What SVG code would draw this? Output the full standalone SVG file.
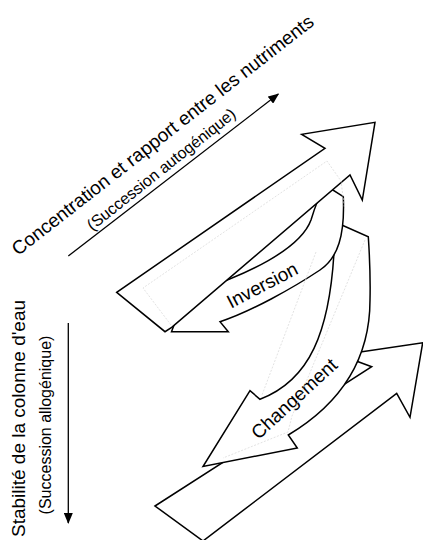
<svg xmlns="http://www.w3.org/2000/svg" width="423" height="540" viewBox="0 0 423 540">
  <style>
    .blk { fill:#fff; stroke:#000; stroke-width:1.5; stroke-linejoin:miter; }
    .ghost { fill:none; stroke:#d6d6d6; stroke-width:0.7; stroke-dasharray:2 1.5; }
    .lbl { font-family:"Liberation Sans", Arial, sans-serif; fill:#000; }
    .big { font-size:19px; }
    .small { font-size:16px; }
    .axis { stroke:#000; stroke-width:1.3; fill:none; marker-end:url(#ah); }
  </style>
  <defs>
    <marker id="ah" viewBox="0 0 11 9" refX="10" refY="4.5" markerWidth="11" markerHeight="9" markerUnits="userSpaceOnUse" orient="auto">
      <path d="M0,0 L11,4.5 L0,9 Z" fill="#000"/>
    </marker>
  </defs>
  <rect width="423" height="540" fill="#fff"/>

  <!-- lower straight arrow -->
  <g id="arrow-lower">
    <path class="blk" d="M155,506 L371.7,366.7 L340,355 L422.7,342.7 L410,417.3 L396.7,393.3 L203,541 Z"/>
  </g>

  <!-- Changement curved arrow -->
  <g id="arrow-changement">
    <path class="blk" d="M335,222 L368.3,236.7 C369.5,255 370.5,280 370,300 C370,370 330,410 288.3,435 L297.3,448 L203,466.5 L250,390.7 L260,399.3 C305,382 334,340 335,222 Z"/>
    <text class="lbl big" text-anchor="middle" transform="translate(298.5,403.5) rotate(-42.6)">Changement</text>
  </g>

  <!-- Inversion curved arrow -->
  <g id="arrow-inversion">
    <path class="blk" d="M325,185 L343.3,196.7 C345,235 338,258 320,270 C293,288 250,312 220,321.7 L228.3,331.7 L171.5,331.7 L185,296 L200,290 C245,275 300,250 311,220 C314,210 318,198 325,185 Z"/>
    <text class="lbl big" text-anchor="middle" transform="translate(265.2,291) rotate(-27.5)">Inversion</text>
  </g>

  <!-- upper straight arrow -->
  <g id="arrow-upper">
    <path class="blk" d="M116.7,292.3 L165,331.7 L171.7,327.3 L350,175 L362.3,200 L375,122.3 L301.7,134.3 L325,148.3 Z"/>
  </g>

  <!-- faint construction lines -->
  <g id="ghost-lines">
    <path class="ghost" d="M171,325 L143,288 L327,161 L341,181 L345,212"/>
    <path class="ghost" d="M316,252 L262,395"/>
    <path class="ghost" d="M365,240 L292,416 L288,432 L223,458"/>
  </g>

  <!-- axis arrows -->
  <g id="connectors">
    <path class="axis" d="M68.3,256 L278.3,94"/>
    <path class="axis" d="M68.3,323 L68.3,523"/>
  </g>

  <g id="label-nutrients">
    <text class="lbl big" text-anchor="middle" transform="translate(166.6,140.2) rotate(-38)">Concentration et rapport entre les nutriments</text>
    <text class="lbl small" text-anchor="middle" transform="translate(164.6,173.6) rotate(-38.5)">(Succession autogénique)</text>
  </g>

  <g id="label-stability">
    <text class="lbl big" text-anchor="middle" transform="translate(25,418.5) rotate(-90)">Stabilité de la colonne d'eau</text>
    <text class="lbl small" text-anchor="middle" transform="translate(50.5,425) rotate(-90)">(Succession allogénique)</text>
  </g>
</svg>
